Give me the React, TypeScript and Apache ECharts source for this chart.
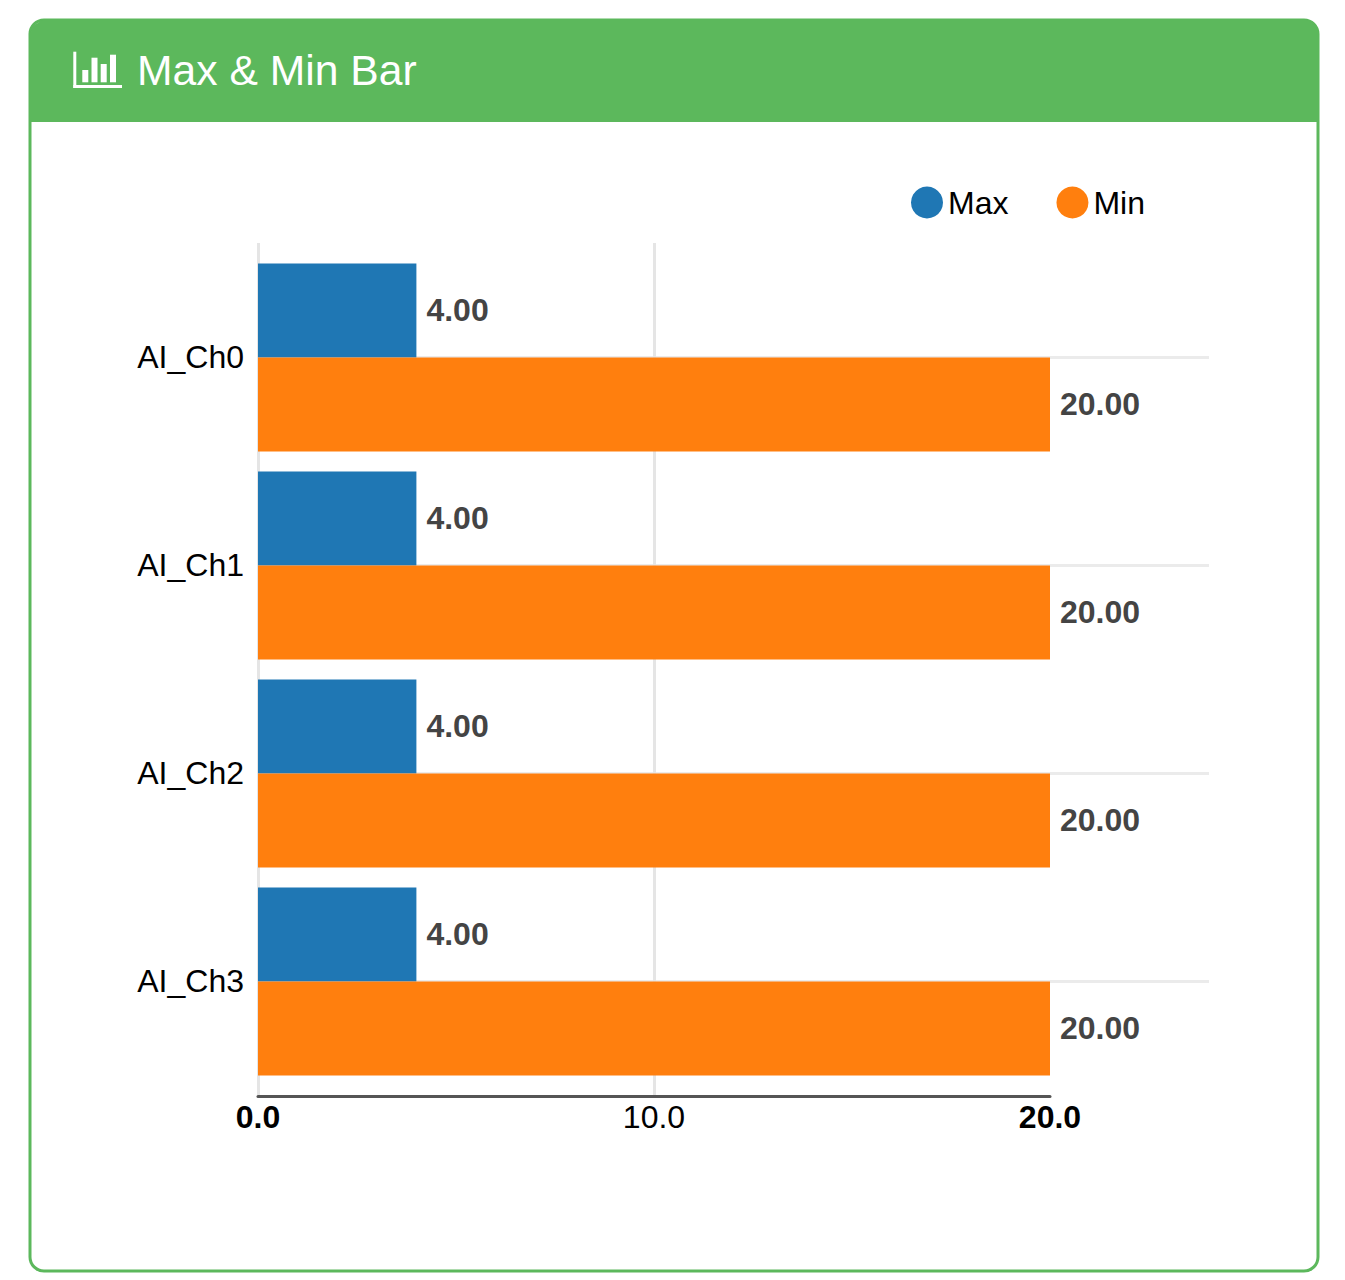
import React, { useEffect, useRef } from "react";
import * as echarts from "echarts";

const categories = ["AI_Ch0", "AI_Ch1", "AI_Ch2", "AI_Ch3"];
const maxValues = [4, 4, 4, 4];
const minValues = [20, 20, 20, 20];
const xTicks = [0, 10, 20];
const titleText = "Max & Min Bar";
const FONT = '"Liberation Sans", Arial, sans-serif';

export default function App() {
  const ref = useRef<HTMLDivElement>(null);
  useEffect(() => {
    const chart = echarts.init(ref.current!, undefined, { renderer: "svg" });
    const green = "#5cb85c";
    const barLabel = {
      show: true,
      position: "right",
      distance: 10,
      offset: [0, -1],
      color: "#444",
      fontFamily: FONT,
      fontSize: 32,
      fontWeight: "bold",
      formatter: (p: any) => p.value.toFixed(2),
    };
    chart.setOption({
      animation: false,
      backgroundColor: "#fff",
      color: ["#1f77b4", "#ff7f0e"],
      title: {
        text: titleText,
        left: 137,
        top: 48,
        padding: 0,
        textStyle: { color: "#fff", fontFamily: FONT, fontSize: 42.65, fontWeight: "normal" },
      },
      legend: {
        left: 911,
        top: 186.5,
        padding: 0,
        icon: "circle",
        itemWidth: 32,
        itemHeight: 32,
        itemGap: 48,
        data: ["Max", "Min"],
        selectedMode: false,
        textStyle: { color: "#000", fontFamily: FONT, fontSize: 32, padding: [0, 0, 2, 0] },
      },
      grid: [
        { left: 258, width: 792, top: 253.5, height: 832 },
        { left: 258, width: 792, top: 243, height: 853 },
        { left: 258, width: 951, top: 357, height: 624 },
      ],
      xAxis: [
        { gridIndex: 0, type: "value", min: 0, max: 20, show: false },
        {
          gridIndex: 1,
          type: "value",
          min: 0,
          max: 20,
          interval: 10,
          axisLine: { show: true, onZero: false, lineStyle: { color: "#555", width: 3 } },
          axisTick: { show: false },
          splitLine: { show: true, showMaxLine: false, lineStyle: { color: "#e5e5e5", width: 3 } },
          axisLabel: {
            margin: 5,
            color: "#000",
            fontFamily: FONT,
            fontSize: 32,
            formatter: (v: number) => {
              const s = xTicks.includes(v) ? v.toFixed(1) : "";
              return v === 0 || v === 20 ? `{b|${s}}` : s;
            },
            rich: { b: { fontWeight: "bold", fontSize: 32, fontFamily: FONT, color: "#000" } },
          },
        },
        { gridIndex: 2, type: "value", min: 0, max: 24, show: false },
      ],
      yAxis: [
        {
          gridIndex: 0,
          type: "category",
          inverse: true,
          data: categories,
          axisLine: { show: false },
          axisTick: { show: false },
          splitLine: { show: false },
          axisLabel: { show: false },
        },
        { gridIndex: 1, type: "value", show: false },
        {
          gridIndex: 2,
          type: "category",
          inverse: true,
          boundaryGap: false,
          data: categories,
          axisLine: { show: false },
          axisTick: { show: false },
          axisLabel: { show: true, interval: 0, margin: 14, color: "#000", fontFamily: FONT, fontSize: 32 },
          splitLine: { show: true, interval: 0, lineStyle: { color: "#ebebeb", width: 3 } },
        },
      ],
      series: [
        {
          name: "Max",
          type: "bar",
          xAxisIndex: 0,
          yAxisIndex: 0,
          data: maxValues,
          barWidth: 94,
          barGap: 0,
          z: 3,
          label: barLabel,
        },
        {
          name: "Min",
          type: "bar",
          xAxisIndex: 0,
          yAxisIndex: 0,
          data: minValues,
          barWidth: 94,
          barGap: 0,
          z: 3,
          label: barLabel,
        },
      ],
      graphic: [
        {
          type: "rect",
          z: -10,
          silent: true,
          shape: { x: 30, y: 20, width: 1288, height: 1251, r: 14 },
          style: { fill: "#fff", stroke: green, lineWidth: 3 },
        },
        {
          type: "polygon",
          z: -9,
          silent: true,
          shape: {
            points: [
              [30, 34], [33, 26], [44, 19], [1305, 19], [1316, 26], [1319, 34],
              [1319, 122], [30, 122],
            ],
          },
          style: { fill: green },
        },
        { type: "rect", z: 5, silent: true, shape: { x: 73.3, y: 51.7, width: 3, height: 36.3 }, style: { fill: "#fff" } },
        { type: "rect", z: 5, silent: true, shape: { x: 73.3, y: 85, width: 48.7, height: 3 }, style: { fill: "#fff" } },
        { type: "rect", z: 5, silent: true, shape: { x: 82.3, y: 70, width: 6, height: 12.3 }, style: { fill: "#fff" } },
        { type: "rect", z: 5, silent: true, shape: { x: 91.5, y: 57.7, width: 6, height: 24.6 }, style: { fill: "#fff" } },
        { type: "rect", z: 5, silent: true, shape: { x: 100.7, y: 64, width: 6, height: 18.3 }, style: { fill: "#fff" } },
        { type: "rect", z: 5, silent: true, shape: { x: 110, y: 54.7, width: 6, height: 27.6 }, style: { fill: "#fff" } },
      ],
    });
    return () => chart.dispose();
  }, []);
  return (
    <div
      ref={ref}
      style={{ position: "absolute", left: 0, top: 0, width: 1345, height: 1280 }}
    />
  );
}
